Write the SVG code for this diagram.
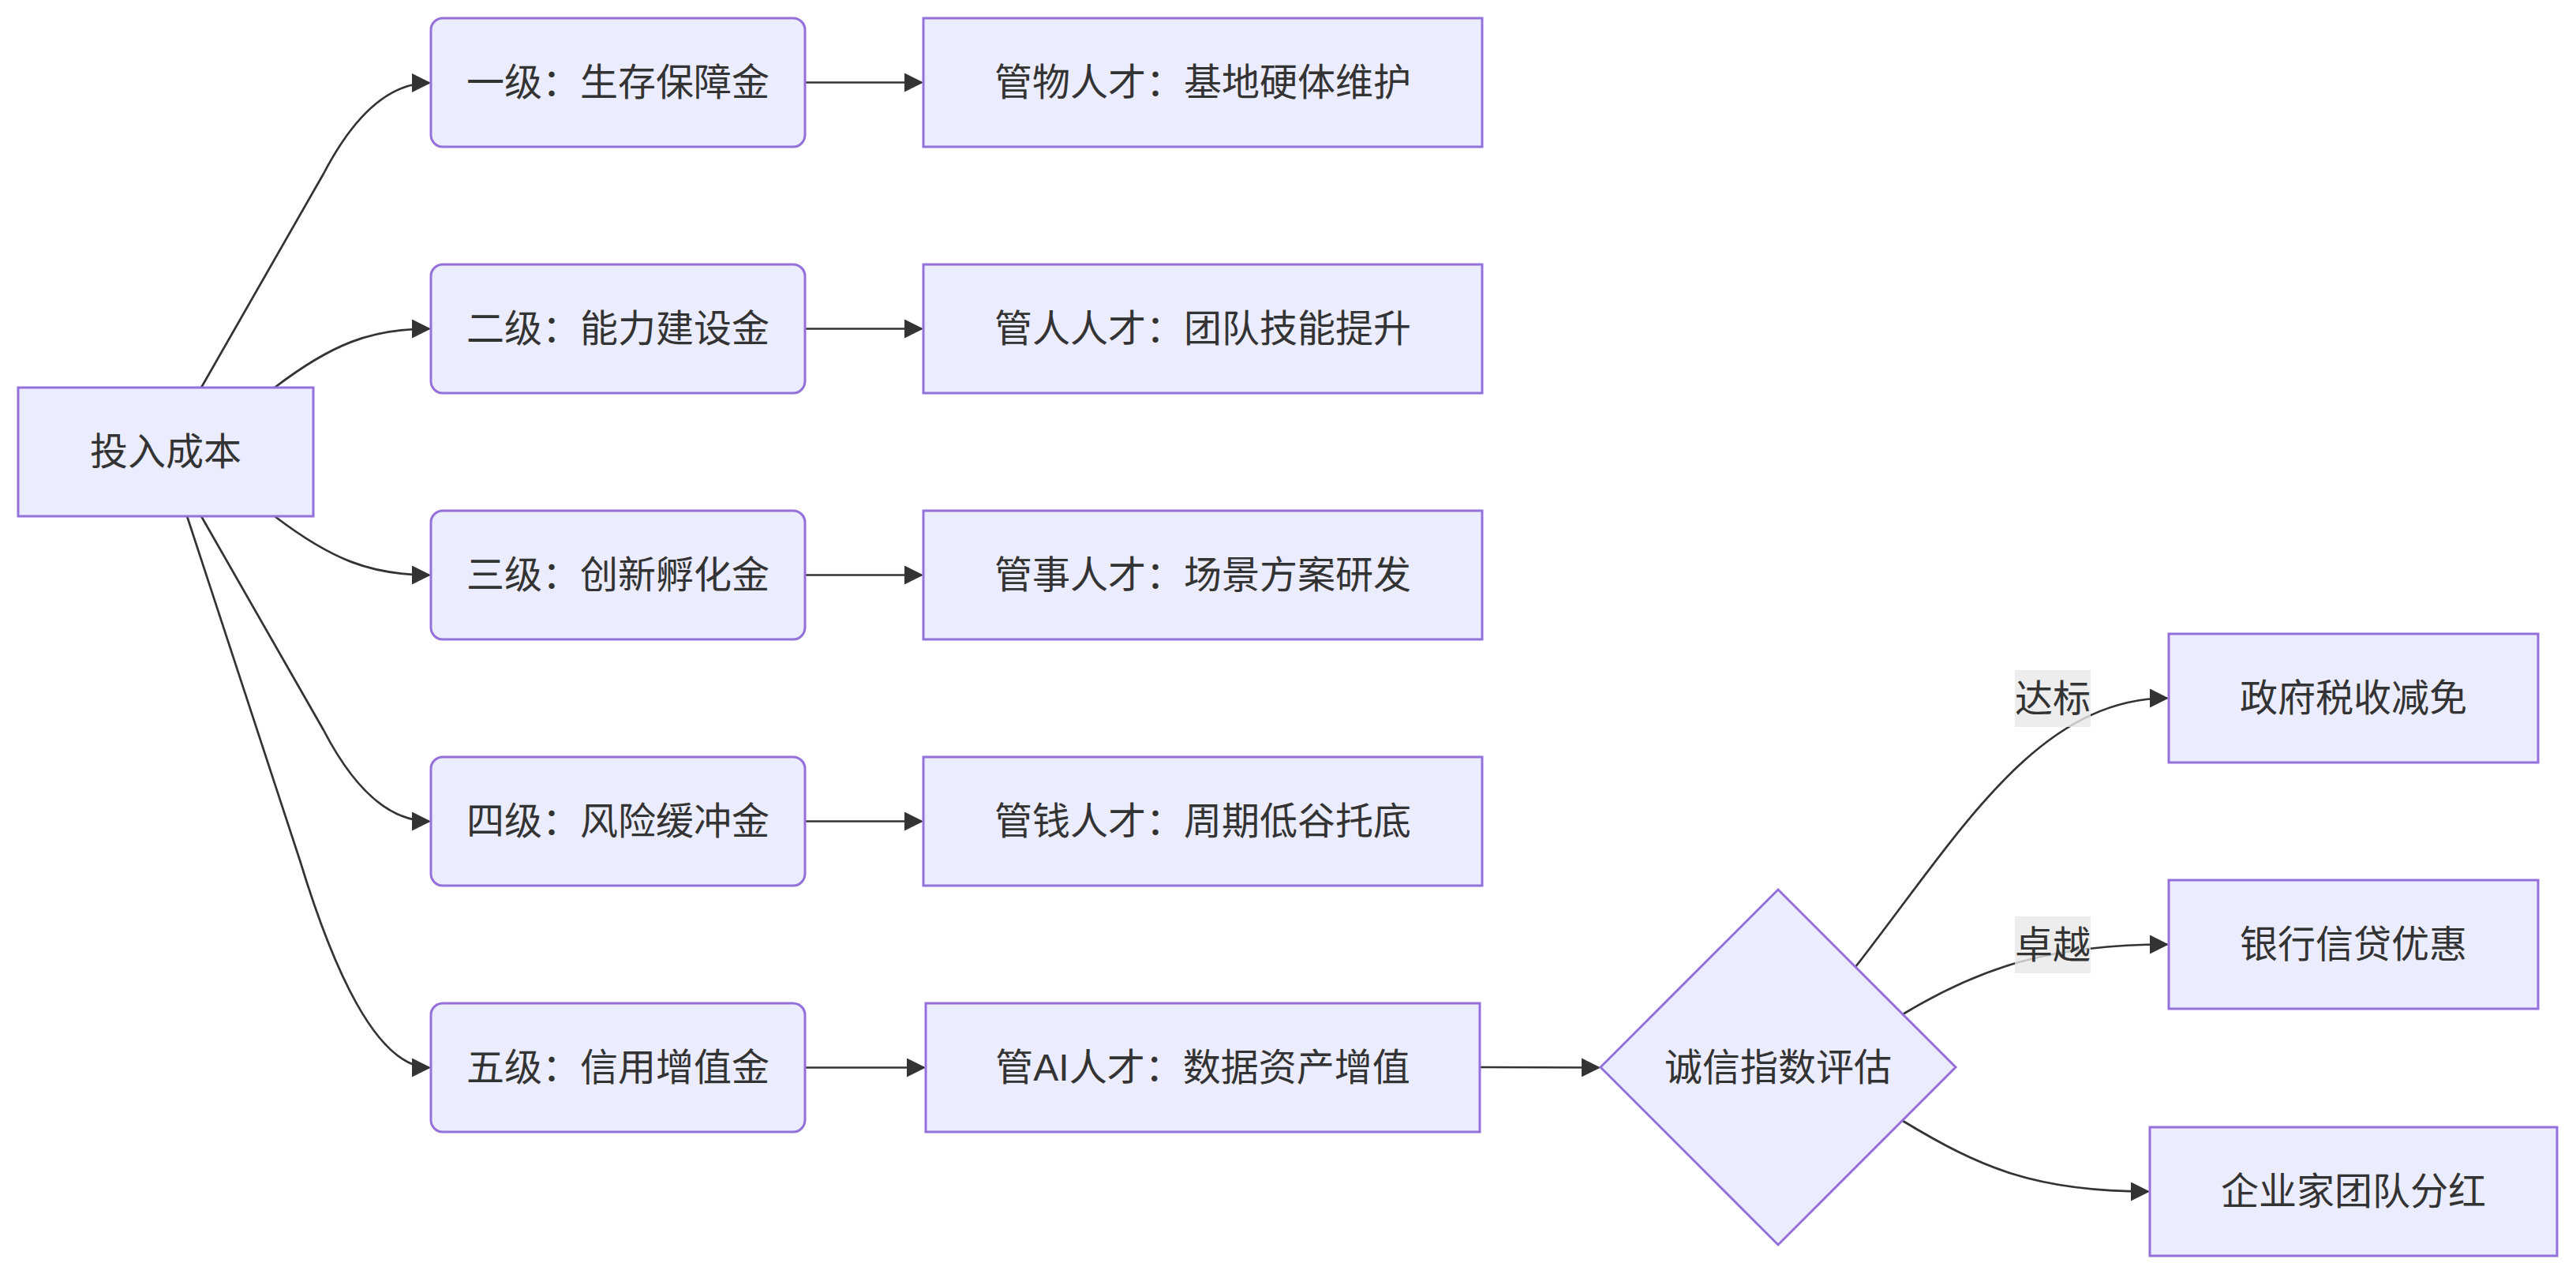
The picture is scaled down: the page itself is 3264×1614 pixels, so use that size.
<svg xmlns="http://www.w3.org/2000/svg" width="3264" height="1614" viewBox="0 0 3264 1614">
<style>
.node rect, .node polygon { fill: #ECECFF; stroke: #9370DB; stroke-width: 3; }
.node text, .lbl text { font-family: "Liberation Sans", "Noto Sans CJK SC", sans-serif; font-size: 48px; fill: #333333; text-anchor: middle; dominant-baseline: central; }
.edge { fill: none; stroke: #333333; stroke-width: 2.7; }
.lbl rect { fill: #e8e8e8; fill-opacity: 0.8; stroke: none; }
</style>
<defs>
<marker id="arrow" markerUnits="userSpaceOnUse" markerWidth="24" markerHeight="24" refX="22" refY="12" orient="auto" viewBox="0 0 24 24">
<path d="M0,0 L24,12 L0,24 z" fill="#333333"/>
</marker>
</defs>
<rect width="3264" height="1614" fill="#ffffff"/>
<g id="connectors">
<path class="edge" marker-end="url(#arrow)" d="M255,491 L410,220 Q470,105 544,105"/>
<path class="edge" marker-end="url(#arrow)" d="M348,491 C420,436 470,416.5 544,416.5"/>
<path class="edge" marker-end="url(#arrow)" d="M348,654 C420,709 470,728.5 544,728.5"/>
<path class="edge" marker-end="url(#arrow)" d="M255,654 L410,925 Q470,1040.5 544,1040.5"/>
<path class="edge" marker-end="url(#arrow)" d="M237,654 L380,1090 Q460,1352.5 544,1352.5"/>
<path class="edge" marker-end="url(#arrow)" d="M1020,104.5 L1168,104.5"/>
<path class="edge" marker-end="url(#arrow)" d="M1020,416.5 L1168,416.5"/>
<path class="edge" marker-end="url(#arrow)" d="M1020,728.5 L1168,728.5"/>
<path class="edge" marker-end="url(#arrow)" d="M1020,1040.5 L1168,1040.5"/>
<path class="edge" marker-end="url(#arrow)" d="M1020,1352.5 L1171,1352.5"/>
<path class="edge" marker-end="url(#arrow)" d="M1875,1352 L2026,1352.5"/>
<path class="edge" marker-end="url(#arrow)" d="M2351,1225 C2480,1060 2580,884.5 2746,884.5"/>
<path class="edge" marker-end="url(#arrow)" d="M2411,1285 C2510,1225 2600,1196.5 2746,1196.5"/>
<path class="edge" marker-end="url(#arrow)" d="M2411,1420 C2510,1480 2580,1509.5 2722,1509.5"/>
<g class="lbl"><rect x="2553" y="849" width="96" height="72"/><text x="2601" y="885">达标</text></g>
<g class="lbl"><rect x="2553" y="1161" width="96" height="72"/><text x="2601" y="1197">卓越</text></g>
</g>
<g id="n_cost" class="node"><rect x="23" y="491" width="374" height="163"/><text x="210" y="572.5">投入成本</text></g>
<g id="n_l1" class="node"><rect x="546" y="23" width="474" height="163" rx="15" ry="15"/><text x="783" y="104.5">一级：生存保障金</text></g>
<g id="n_l2" class="node"><rect x="546" y="335" width="474" height="163" rx="15" ry="15"/><text x="783" y="416.5">二级：能力建设金</text></g>
<g id="n_l3" class="node"><rect x="546" y="647" width="474" height="163" rx="15" ry="15"/><text x="783" y="728.5">三级：创新孵化金</text></g>
<g id="n_l4" class="node"><rect x="546" y="959" width="474" height="163" rx="15" ry="15"/><text x="783" y="1040.5">四级：风险缓冲金</text></g>
<g id="n_l5" class="node"><rect x="546" y="1271" width="474" height="163" rx="15" ry="15"/><text x="783" y="1352.5">五级：信用增值金</text></g>
<g id="n_m1" class="node"><rect x="1170" y="23" width="708" height="163"/><text x="1524" y="104.5">管物人才：基地硬体维护</text></g>
<g id="n_m2" class="node"><rect x="1170" y="335" width="708" height="163"/><text x="1524" y="416.5">管人人才：团队技能提升</text></g>
<g id="n_m3" class="node"><rect x="1170" y="647" width="708" height="163"/><text x="1524" y="728.5">管事人才：场景方案研发</text></g>
<g id="n_m4" class="node"><rect x="1170" y="959" width="708" height="163"/><text x="1524" y="1040.5">管钱人才：周期低谷托底</text></g>
<g id="n_m5" class="node"><rect x="1173" y="1271" width="702" height="163"/><text x="1524" y="1352.5">管AI人才：数据资产增值</text></g>
<g id="n_eval" class="node"><polygon points="2253,1127 2478,1352 2253,1577 2028,1352"/><text x="2253" y="1352">诚信指数评估</text></g>
<g id="n_gov" class="node"><rect x="2748" y="803" width="468" height="163"/><text x="2982" y="884.5">政府税收减免</text></g>
<g id="n_bank" class="node"><rect x="2748" y="1115" width="468" height="163"/><text x="2982" y="1196.5">银行信贷优惠</text></g>
<g id="n_div" class="node"><rect x="2724" y="1428" width="516" height="163"/><text x="2982" y="1509.5">企业家团队分红</text></g>
</svg>
